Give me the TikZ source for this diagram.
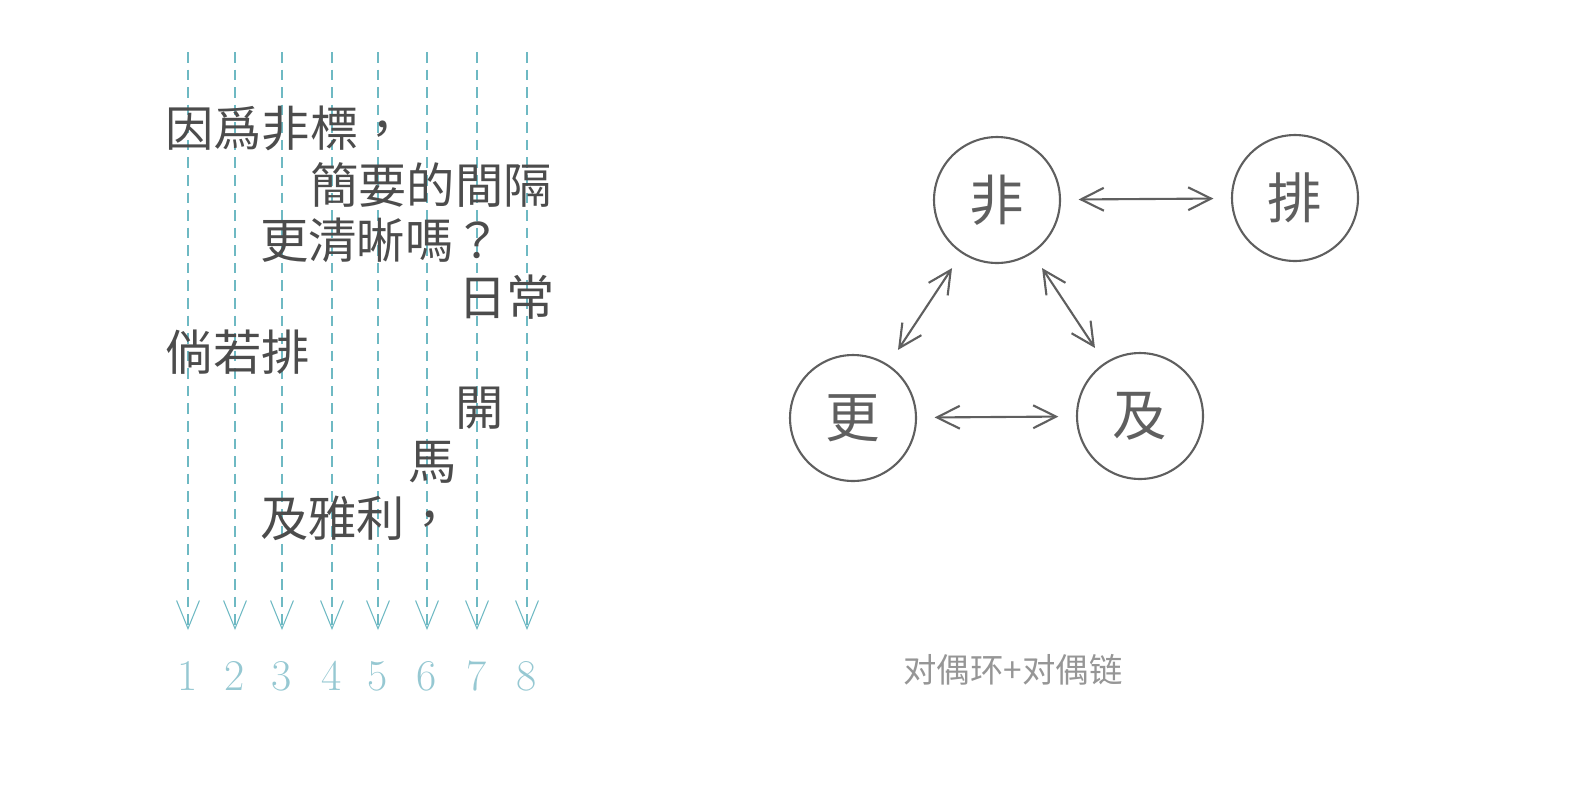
\documentclass[tikz,border=0pt]{standalone}
\usepackage{fontspec}
\newfontfamily\cjk{Noto Sans CJK TC}[FakeStretch=1]
\usetikzlibrary{arrows.meta}
\definecolor{lineteal}{RGB}{110,185,195}
\definecolor{numteal}{RGB}{150,200,210}
\definecolor{darkgray}{RGB}{95,95,95}
\definecolor{captiongray}{RGB}{150,150,150}
\tikzset{
  guide/.style={dash pattern=on 6pt off 4pt,color=lineteal,line width=0.6pt,-{Straight Barb[length=16pt,width=13pt]}},
  row/.style={anchor=west,inner sep=0pt,font=\cjk\fontsize{27.5}{27.5}\selectfont,color=darkgray!80!black},
  word/.style={circle,draw=darkgray,line width=1.2pt,minimum size=2.52cm,inner sep=0pt,font=\cjk\fontsize{31}{31}\selectfont,color=darkgray},
  link/.style={darkgray,line width=1.2pt,{Straight Barb[length=13pt,width=13pt]}-{Straight Barb[length=13pt,width=13pt]},shorten <=10pt,shorten >=10pt}
}
\begin{document}
\begin{tikzpicture}[x=0.02cm,y=-0.02cm]
\useasboundingbox (0,0) rectangle (1595,789);
% columns
\foreach \x/\n in {188/1,235/2,282/3,332/4,378/5,427/6,477/7,527/8} {
  \coordinate (top\n) at (\x,52);
  \coordinate (bot\n) at (\x,630);
  \draw[guide] (top\n) -- (bot\n);
  \node[color=numteal,font=\fontsize{25}{25}\selectfont] (num\n) at (\x,676) {\n};
}
% text rows
\node[row] (r1) at (165,128) {因爲非標，};
\node[row] (r2) at (310,185) {簡要的間隔};
\node[row] (r3) at (260,240) {更清晰嗎？};
\node[row] (r4) at (458,297) {日常};
\node[row] (r5) at (165,352) {倘若排};
\node[row] (r6) at (455,408) {開};
\node[row] (r7) at (408,462) {馬};
\node[row] (r8) at (260,518) {及雅利，};
% graph
\node[word] (fei) at (997,200) {非};
\node[word] (pai) at (1295,198) {排};
\node[word] (geng) at (853,418) {更};
\node[word] (ji) at (1140,416) {及};
\draw[link] (fei) -- (pai);
\draw[link] (fei) -- (geng);
\draw[link] (fei) -- (ji);
\draw[link] (geng) -- (ji);
\node[font=\cjk\fontsize{19}{19}\selectfont,color=captiongray] (cap) at (1013,670) {对偶环+对偶链};
\end{tikzpicture}
\end{document}
